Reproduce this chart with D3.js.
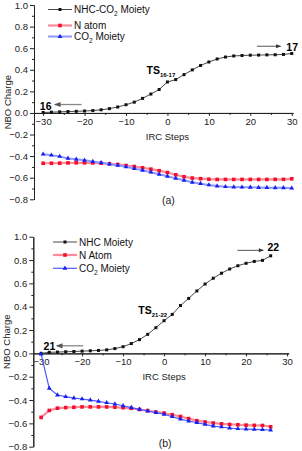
<!DOCTYPE html>
<html>
<head>
<meta charset="utf-8">
<script src="https://cdn.jsdelivr.net/npm/d3@7"></script>
<style>
  body { margin: 0; background: #fff; }
  svg { display: block; font-family: "Liberation Sans", Arial, sans-serif; }
  .axis path, .axis line { stroke: #222; stroke-width: 1; }
  .axis text { font-size: 9.5px; fill: #222; }
  .minor text { display: none; }
</style>
</head>
<body>
<div id="chart"></div>
<script>
// ---- data ----
var stepsA = [-30,-28,-26,-24,-22,-20,-18,-16,-14,-12,-10,-8,-6,-4,-2,0,2,4,6,8,10,12,14,16,18,20,22,24,26,28,30];
var nhcA = [0.004,0.007,0.010,0.013,0.015,0.018,0.022,0.029,0.040,0.055,0.076,0.100,0.135,0.175,0.217,0.287,0.309,0.355,0.399,0.440,0.472,0.500,0.518,0.528,0.532,0.535,0.536,0.538,0.539,0.542,0.551];
var nAtomA = [-0.466,-0.466,-0.465,-0.463,-0.462,-0.462,-0.463,-0.466,-0.471,-0.477,-0.487,-0.496,-0.508,-0.521,-0.535,-0.552,-0.573,-0.591,-0.603,-0.609,-0.614,-0.616,-0.616,-0.616,-0.616,-0.616,-0.616,-0.616,-0.615,-0.615,-0.610];
var co2A = [-0.382,-0.391,-0.403,-0.421,-0.430,-0.439,-0.450,-0.461,-0.473,-0.486,-0.499,-0.516,-0.531,-0.549,-0.568,-0.587,-0.606,-0.624,-0.642,-0.655,-0.667,-0.677,-0.683,-0.686,-0.688,-0.689,-0.691,-0.692,-0.693,-0.694,-0.697];

var stepsB = [-30,-28,-26,-24,-22,-20,-18,-16,-14,-12,-10,-8,-6,-4,-2,0,2,4,6,8,10,12,14,16,18,20,22,24,26];
var nhcB = [0.000,0.009,0.011,0.014,0.016,0.019,0.022,0.025,0.030,0.041,0.057,0.084,0.118,0.163,0.220,0.280,0.334,0.410,0.471,0.535,0.594,0.644,0.687,0.723,0.751,0.772,0.788,0.797,0.836];
var nAtomB = [-0.549,-0.489,-0.470,-0.465,-0.462,-0.459,-0.459,-0.459,-0.459,-0.461,-0.466,-0.471,-0.481,-0.491,-0.503,-0.512,-0.526,-0.541,-0.559,-0.577,-0.588,-0.597,-0.604,-0.609,-0.612,-0.615,-0.617,-0.618,-0.629];
var co2B = [-0.006,-0.300,-0.357,-0.371,-0.383,-0.391,-0.400,-0.411,-0.423,-0.434,-0.449,-0.465,-0.480,-0.494,-0.508,-0.522,-0.543,-0.563,-0.580,-0.594,-0.609,-0.623,-0.631,-0.640,-0.646,-0.649,-0.651,-0.654,-0.657];

var xTicks = [-30,-20,-10,0,10,20,30];
var xMinor = [-25,-15,-5,5,15,25];
var yTicks = [-0.8,-0.6,-0.4,-0.2,0.0,0.2,0.4,0.6,0.8,1.0];
var yMinor = [-0.7,-0.5,-0.3,-0.1,0.1,0.3,0.5,0.7,0.9];

var namesA = ["NHC-CO|2| Moiety", "N atom", "CO|2| Moiety"];
var namesB = ["NHC Moiety", "N Atom", "CO|2| Moiety"];

var W = 302, H = 451;
var svg = d3.select("#chart").append("svg").attr("width", W).attr("height", H);

var defs = svg.append("defs");
["arrGray", "arrDark"].forEach(function(id, i) {
    defs.append("marker").attr("id", id).attr("viewBox", "0 0 10 10")
        .attr("refX", 9).attr("refY", 5).attr("markerWidth", 6).attr("markerHeight", 5)
        .attr("orient", "auto-start-reverse")
        .append("path").attr("d", "M0,1 L10,5 L0,9 Z").attr("fill", i ? "#333" : "#555");
});

// writes "A|sub|B" as text with subscript parts
function richText(sel, str, subSize) {
    str.split("|").forEach(function(part, i) {
        if (!part) return;
        var t = sel.append("tspan").text(part);
        if (i % 2 == 1) t.attr("font-size", subSize).attr("dy", 3);
        else if (i > 0) t.attr("dy", -3);
    });
}

function panel(cfg) {
    var g = svg.append("g");
    var x = d3.scaleLinear().domain(cfg.xDomain).range(cfg.xRange);
    var y = d3.scaleLinear().domain([-0.8, 1.0]).range(cfg.yRange);

    g.append("g").attr("class", "axis minor").attr("transform", "translate(" + cfg.xRange[0] + ",0)")
        .call(d3.axisLeft(y).tickValues(yMinor).tickSize(2).tickSizeOuter(0));
    g.append("g").attr("class", "axis").attr("transform", "translate(" + cfg.xRange[0] + ",0)")
        .call(d3.axisLeft(y).tickValues(yTicks).tickFormat(d3.format(".1f")).tickSize(4).tickSizeOuter(0).tickPadding(2));
    g.append("g").attr("class", "axis minor").attr("transform", "translate(0," + y(0) + ")")
        .call(d3.axisBottom(x).tickValues(xMinor).tickSize(2).tickSizeOuter(0));
    g.append("g").attr("class", "axis").attr("transform", "translate(0," + y(0) + ")")
        .call(d3.axisBottom(x).tickValues(xTicks).tickSize(3).tickSizeOuter(0).tickPadding(2));

    g.append("text").attr("transform", "translate(" + cfg.yTitleX + "," + ((cfg.yRange[0] + cfg.yRange[1]) / 2) + ") rotate(-90)")
        .attr("text-anchor", "middle").attr("font-size", 9.5).attr("fill", "#222").text("NBO Charge");
    g.append("text").attr("x", x(0)).attr("y", y(0) + cfg.xTitleDy)
        .attr("text-anchor", "middle").attr("font-size", 9.5).attr("fill", "#222").text("IRC Steps");
    g.append("text").attr("x", x(0) + 1).attr("y", y(-0.8) + cfg.tagDy)
        .attr("text-anchor", "middle").attr("font-size", 10.5).attr("fill", "#222").text(cfg.tag);

    var series = [
        {vals: cfg.nhc, line: "#333", lw: 0.9, mark: "#111", shape: "sq", ms: 3},
        {vals: cfg.nAtom, line: "#ff8a9a", lw: 2.2, mark: "#f2102c", shape: "sq", ms: 3.6},
        {vals: cfg.co2, line: cfg.blueLine, lw: cfg.blueW, mark: "#1820f0", shape: "tri", ms: 4.2}
    ];
    var line = d3.line().x(function(d) { return x(d[0]); }).y(function(d) { return y(d[1]); });
    var tri = d3.symbol().type(d3.symbolTriangle).size(10);

    series.forEach(function(s) {
        var pts = cfg.steps.map(function(st, i) { return [st, s.vals[i]]; });
        g.append("path").datum(pts).attr("d", line).attr("fill", "none")
            .attr("stroke", s.line).attr("stroke-width", s.lw);
        drawMarks(g, pts, s, x, y, tri);
    });

    // legend
    var names = cfg.names;
    series.forEach(function(s, i) {
        var ly = cfg.legendY[i];
        g.append("line").attr("x1", cfg.legendX).attr("x2", cfg.legendX + 24)
            .attr("y1", ly).attr("y2", ly).attr("stroke", s.line).attr("stroke-width", s.lw);
        drawMarks(g, [[0, 0]], s, function() { return cfg.legendX + 12; }, function() { return ly; }, tri);
        var t = g.append("text").attr("x", cfg.legendX + 26).attr("y", ly + 3.5)
            .attr("font-size", 10).attr("fill", "#111");
        richText(t, names[i], 6.5);
    });

    // annotations
    var ann = cfg.ann;
    g.append("text").attr("x", x(ann.start[0])).attr("y", y(ann.start[1]))
        .attr("font-size", 10.5).attr("font-weight", "bold").text(ann.start[2]);
    g.append("text").attr("x", x(ann.end[0])).attr("y", y(ann.end[1]))
        .attr("font-size", 10.5).attr("font-weight", "bold").text(ann.end[2]);
    var ts = g.append("text").attr("x", x(ann.ts[0])).attr("y", y(ann.ts[1]))
        .attr("font-size", 10.5).attr("font-weight", "bold");
    richText(ts, "TS|" + ann.ts[2] + "|", 6);

    g.append("line").attr("x1", x(ann.arrL[0])).attr("x2", x(ann.arrL[1]))
        .attr("y1", y(ann.arrL[2])).attr("y2", y(ann.arrL[2]))
        .attr("stroke", "#888").attr("stroke-width", 1.3).attr("marker-end", "url(#arrGray)");
    g.append("line").attr("x1", x(ann.arrR[0])).attr("x2", x(ann.arrR[1]))
        .attr("y1", y(ann.arrR[2])).attr("y2", y(ann.arrR[2]))
        .attr("stroke", "#555").attr("stroke-width", 1).attr("marker-end", "url(#arrDark)");
}

function drawMarks(g, pts, s, x, y, tri) {
    if (s.shape == "sq") {
        g.selectAll(null).data(pts).enter().append("rect")
            .attr("x", function(d) { return x(d[0]) - s.ms / 2; })
            .attr("y", function(d) { return y(d[1]) - s.ms / 2; })
            .attr("width", s.ms).attr("height", s.ms).attr("fill", s.mark);
    } else {
        g.selectAll(null).data(pts).enter().append("path").attr("d", tri)
            .attr("transform", function(d) { return "translate(" + x(d[0]) + "," + y(d[1]) + ")"; })
            .attr("fill", s.mark);
    }
}

panel({
    steps: stepsA, nhc: nhcA, nAtom: nAtomA, co2: co2A, names: namesA,
    xDomain: [-32.2, 30.3], xRange: [34, 293], yRange: [199.3, 5],
    yTitleX: 11, xTitleDy: 27, tagDy: 5, tag: "(a)",
    blueLine: "#8d96ff", blueW: 2,
    legendX: 48, legendY: [9.5, 25.5, 36.5],
    ann: { start: [-30.8, 0.03, "16"], end: [28.7, 0.571, "17"], ts: [-5.05, 0.358, "16-17"],
           arrL: [-20.7, -27.2, 0.078], arrR: [21.6, 27.3, 0.618] }
});

panel({
    steps: stepsB, nhc: nhcB, nAtom: nAtomB, co2: co2B, names: namesB,
    xDomain: [-31.9, 30.4], xRange: [33.3, 288.7], yRange: [446.7, 236.7],
    yTitleX: 10, xTitleDy: 27, tagDy: 0, tag: "(b)",
    blueLine: "#4a5cff", blueW: 1.2,
    legendX: 53, legendY: [242, 255, 268.3],
    ann: { start: [-29.4, 0.033, "21"], end: [25.2, 0.877, "22"], ts: [-6.27, 0.337, "21-22"],
           arrL: [-19.7, -26.2, 0.065], arrR: [17.9, 24.2, 0.883] }
});
</script>
</body>
</html>
